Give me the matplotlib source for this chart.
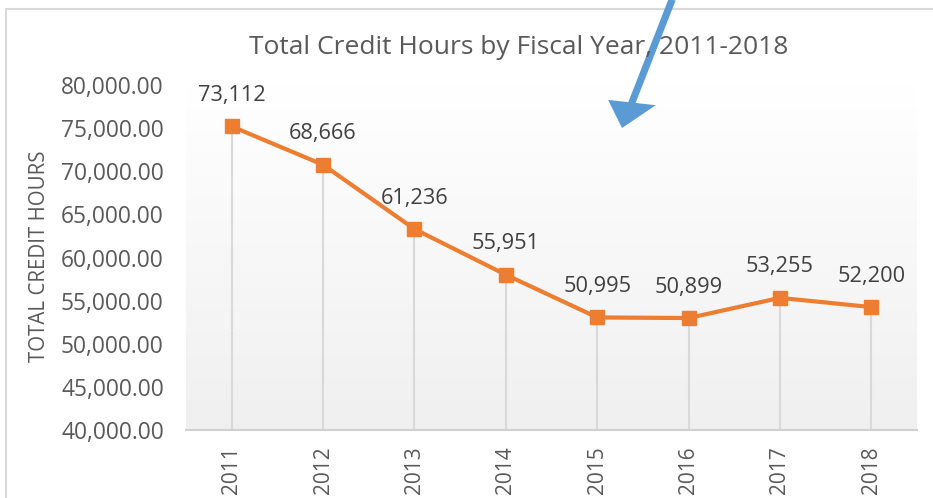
import numpy as np
import matplotlib.pyplot as plt
from matplotlib.patches import Rectangle, FancyArrow
from matplotlib.ticker import FuncFormatter

# data
years = ["2011", "2012", "2013", "2014", "2015", "2016", "2017", "2018"]
plotted_hours = [75200, 70750, 63300, 58000, 53050, 52980, 55320, 54250]
label_hours = [73112, 68666, 61236, 55951, 50995, 50899, 53255, 52200]
y_ticks = [40000, 45000, 50000, 55000, 60000, 65000, 70000, 75000, 80000]

C_LINE = "#ED7D31"
C_DROP = "#D9D9D9"
C_TEXT = "#595959"
C_LABEL = "#404040"
C_ARROW = "#5B9BD5"

plt.rcParams["font.family"] = ["Open Sans", "DejaVu Sans"]

W, H = 933, 498
fig = plt.figure(figsize=(W / 100, H / 100), dpi=100)

# chart border (extends past right / bottom edge like the screenshot)
fig.patches.append(Rectangle((6 / W, -0.1), 1.2, (H - 9) / H + 0.1,
                             transform=fig.transFigure, fill=False,
                             edgecolor="#D9D9D9", linewidth=1.5))

ax = fig.add_axes([186 / W, (H - 430) / H, (917 - 186) / W, (430 - 85) / H])
x = np.arange(len(years))

# gradient plot-area background
grad = np.linspace(0, 1, 256).reshape(-1, 1)
top = np.array([1.0, 1.0, 1.0])
bot = np.array([0.94, 0.94, 0.94])
img = top + (bot - top) * grad[..., None]
ax.imshow(img, extent=(-0.5, 7.5, 40000, 80000), aspect="auto",
          origin="upper", zorder=0)

ax.vlines(x, 40000, plotted_hours, color=C_DROP, linewidth=1.5, zorder=1)
ax.plot(x, plotted_hours, color=C_LINE, linewidth=3, marker="s",
        markersize=10, zorder=3)

for xi, yv, lab in zip(x, plotted_hours, label_hours):
    ax.annotate(f"{lab:,}", (xi, yv), xytext=(0, 31), textcoords="offset pixels",
                ha="center", va="center", fontsize=15.7, color=C_LABEL)

ax.set_xlim(-0.5, 7.5)
ax.set_ylim(40000, 80000)
ax.set_yticks(y_ticks)
ax.yaxis.set_major_formatter(FuncFormatter(lambda v, p: f"{v:,.2f}"))
ax.set_xticks(x)
ax.set_xticklabels(years, rotation=90)
ax.tick_params(axis="y", length=0, pad=16, labelsize=16.4, labelcolor=C_TEXT)
ax.tick_params(axis="x", length=0, pad=12, labelsize=15, labelcolor=C_TEXT)

for side in ["top", "right", "left"]:
    ax.spines[side].set_visible(False)
ax.spines["bottom"].set_color("#D0D0D0")
ax.spines["bottom"].set_linewidth(1.5)

fig.text(40 / W, 1 - 256 / H, "TOTAL CREDIT HOURS", rotation=90,
         ha="center", va="center", fontsize=14.8, color=C_TEXT)
fig.text(519 / W, 1 - 47 / H, "Total Credit Hours by Fiscal Year, 2011-2018",
         ha="center", va="center", fontsize=19, color=C_TEXT)

# blue callout arrow from above
fig.patches.append(FancyArrow(672 / W, 1.0, -50 / W, -128 / H,
                              width=4 / H, head_width=26 / H, head_length=26 / H,
                              length_includes_head=True, transform=fig.transFigure,
                              color=C_ARROW, linewidth=0))

fig.savefig("out.png", dpi=100)
